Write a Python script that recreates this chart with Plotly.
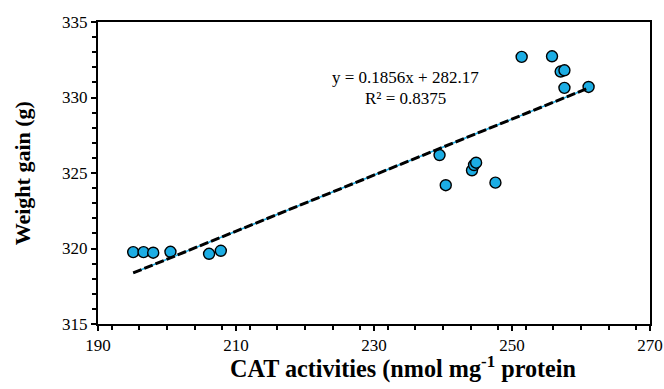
import numpy as np
import plotly.graph_objects as go

# Data
cat_activity = [195.1, 196.6, 198.0, 200.5, 206.1, 207.8,
                239.5, 240.4, 244.2, 244.5, 244.8, 247.6,
                251.4, 255.8, 257.05, 257.6, 257.6, 261.1]
weight_gain = [319.76, 319.76, 319.72, 319.78, 319.65, 319.85,
               326.19, 324.19, 325.18, 325.53, 325.68, 324.36,
               332.69, 332.73, 331.72, 331.80, 330.64, 330.70]

slope = 0.1856
intercept = 282.17
r_squared = 0.8375

x_ticks = [190, 210, 230, 250, 270]
y_ticks = [315, 320, 325, 330, 335]

FONT = "Liberation Serif, Times New Roman, serif"

xfit = np.array([min(cat_activity), max(cat_activity)])
yfit = slope * xfit + intercept

fig = go.Figure()
fig.add_trace(go.Scatter(x=cat_activity, y=weight_gain, mode="markers",
                         marker=dict(size=11, color="#1CADE4",
                                     line=dict(color="black", width=1.4)),
                         showlegend=False))
fig.add_trace(go.Scatter(x=xfit, y=yfit, mode="lines",
                         line=dict(color="#1CADE4", width=1.5),
                         showlegend=False, hoverinfo="skip"))
fig.add_trace(go.Scatter(x=xfit, y=yfit, mode="lines",
                         line=dict(color="black", width=3, dash="9px,3px"),
                         showlegend=False, hoverinfo="skip"))

fig.update_layout(
    width=664, height=389,
    margin=dict(l=98, r=14, t=22, b=65),
    plot_bgcolor="white", paper_bgcolor="white",
    font=dict(family=FONT, size=17, color="black"),
    xaxis=dict(range=[190, 270], tickvals=x_ticks, ticktext=[str(v) for v in x_ticks],
               automargin=False,
               showgrid=False, zeroline=False, showline=True, linecolor="black",
               linewidth=2, mirror=True, ticks="outside", ticklen=5, tickwidth=1.5,
               tickcolor="black",
               minor=dict(dtick=4, ticks="outside", ticklen=4, tickwidth=1.5,
                          tickcolor="black", showgrid=False),
               tickfont=dict(family=FONT, size=17)),
    yaxis=dict(range=[315, 335], tickvals=y_ticks, ticktext=[str(v) for v in y_ticks],
               automargin=False,
               showgrid=False, zeroline=False, showline=True, linecolor="black",
               linewidth=2, mirror=True, ticks="outside", ticklen=5, tickwidth=1.5,
               tickcolor="black",
               minor=dict(dtick=1, ticks="outside", ticklen=4, tickwidth=1.5,
                          tickcolor="black", showgrid=False),
               tickfont=dict(family=FONT, size=17)),
)

fig.add_annotation(x=234.5, y=331.3, xref="x", yref="y", showarrow=False,
                   text=f"y = {slope}x + {intercept}",
                   font=dict(family=FONT, size=17), xanchor="center", yanchor="middle")
fig.add_annotation(x=234.5, y=329.96, xref="x", yref="y", showarrow=False,
                   text=f"R² = {r_squared}",
                   font=dict(family=FONT, size=17), xanchor="center", yanchor="middle")

fig.add_annotation(x=0.554, y=-0.145, xref="paper", yref="paper", showarrow=False,
                   text="<b>CAT activities (nmol mg<sup>-1</sup> protein</b>",
                   font=dict(family=FONT, size=24.2), xanchor="center", yanchor="middle")
fig.add_annotation(x=-0.1377, y=0.499, xref="paper", yref="paper", showarrow=False,
                   text="<b>Weight gain (g)</b>", textangle=-90,
                   font=dict(family=FONT, size=22), xanchor="center", yanchor="middle")

fig.write_html("out.html", config={"displayModeBar": False},
               post_script="document.body.style.margin='0';document.body.style.overflow='hidden';")
